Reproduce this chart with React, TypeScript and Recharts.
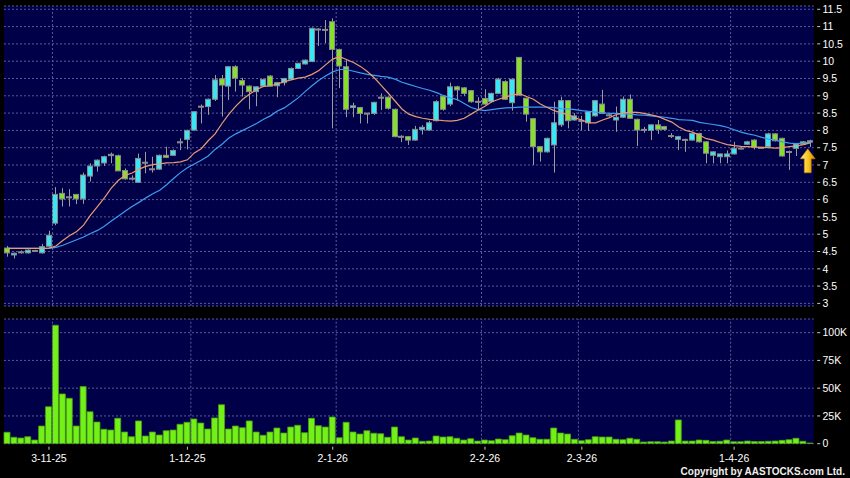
import {
  ComposedChart,
  BarChart,
  Bar,
  Line,
  XAxis,
  YAxis,
  CartesianGrid,
  ReferenceLine,
  ReferenceDot,
} from 'recharts';

// Daily candles, 10/20-day moving averages and volume (thousands of shares).

const opens = [
  4.6, 4.4, 4.49, 4.46, 4.53, 4.46, 4.65, 5.32, 6.18, 6.08,
  6.15, 6.02, 6.68, 6.97, 7.06, 7.27, 7.27, 6.84, 6.6, 6.5,
  7.07, 6.88, 6.88, 7.28, 7.28, 7.66, 7.74, 8.01, 8.69, 8.69,
  8.9, 9.49, 9.28, 9.84, 9.44, 9.28, 9.12, 9.28, 9.57, 9.29,
  9.38, 9.48, 9.79, 9.92, 9.99, 10.92, 10.92, 11.14, 10.34, 9.84,
  8.66, 8.66, 8.49, 8.49, 8.96, 8.96, 8.61, 7.82, 7.82, 7.72,
  8.03, 8.01, 8.28, 8.99, 8.76, 9.26, 9.23, 9.15, 8.83, 8.92,
  8.83, 9.07, 9.41, 8.8, 10.11, 8.93, 8.34, 7.53, 7.38, 7.58,
  8.16, 8.86, 8.3, 8.28, 8.22, 8.42, 8.76, 8.44, 8.3, 8.38,
  8.9, 8.32, 8.03, 8.0, 8.16, 8.11, 7.85, 7.74, 7.74, 7.72,
  7.91, 7.67, 7.28, 7.24, 7.24, 7.32, 7.48, 7.6, 7.72, 7.5,
  7.53, 7.9, 7.77, 7.38, 7.48, 7.67, 7.66,
];
const highs = [
  4.66, 4.47, 4.53, 4.56, 4.55, 4.72, 5.1, 6.36, 6.33, 6.3,
  6.16, 6.78, 7.05, 7.16, 7.27, 7.36, 7.3, 6.9, 6.7, 7.33,
  7.38, 7.24, 7.3, 7.53, 7.45, 7.77, 8.02, 8.56, 8.75, 8.92,
  9.6, 9.6, 9.86, 9.88, 9.52, 9.3, 9.27, 9.5, 9.6, 9.4,
  9.52, 9.82, 9.95, 10.05, 10.97, 10.96, 11.19, 11.24, 10.36, 10.03,
  8.8, 8.68, 8.5, 8.83, 9.07, 8.98, 8.63, 7.86, 7.84, 8.13,
  8.15, 8.28, 8.87, 9.01, 9.38, 9.29, 9.25, 9.17, 8.96, 9.19,
  9.09, 9.52, 9.45, 9.5, 10.12, 8.95, 8.36, 7.55, 7.79, 8.83,
  8.97, 8.88, 8.5, 8.42, 8.56, 8.88, 9.17, 8.48, 8.69, 8.98,
  9.04, 8.34, 8.1, 8.18, 8.3, 8.13, 7.92, 7.84, 7.76, 7.93,
  7.93, 7.69, 7.4, 7.33, 7.42, 7.67, 7.52, 7.7, 7.74, 7.52,
  7.93, 7.92, 7.79, 7.42, 7.63, 7.69, 7.73,
];
const lows = [
  4.35, 4.3, 4.44, 4.44, 4.49, 4.44, 4.62, 5.26, 5.8, 5.8,
  5.87, 5.88, 6.52, 6.81, 6.97, 7.05, 6.83, 6.58, 6.55, 6.48,
  6.76, 6.78, 6.86, 7.2, 7.26, 7.43, 7.45, 7.99, 8.2, 8.45,
  8.85, 8.4, 8.88, 9.12, 8.98, 8.61, 8.7, 9.26, 9.27, 8.96,
  9.3, 9.46, 9.77, 9.9, 9.97, 10.44, 10.52, 8.06, 9.22, 8.38,
  8.38, 8.2, 8.2, 8.45, 8.59, 8.6, 7.8, 7.66, 7.58, 7.7,
  7.88, 7.99, 8.26, 8.57, 8.7, 8.86, 9.0, 8.8, 8.61, 8.74,
  8.8, 9.05, 8.88, 8.57, 9.0, 8.25, 7.0, 7.1, 7.36, 6.78,
  8.1, 8.06, 8.28, 8.0, 7.99, 8.4, 8.47, 8.4, 7.96, 8.36,
  8.33, 7.55, 7.93, 7.72, 7.9, 8.0, 7.78, 7.43, 7.38, 7.7,
  7.65, 7.05, 7.05, 7.05, 7.05, 7.3, 7.45, 7.58, 7.45, 7.48,
  7.5, 7.68, 7.24, 6.86, 7.26, 7.58, 7.52,
];
const closes = [
  4.46, 4.45, 4.49, 4.54, 4.5, 4.64, 4.97, 6.15, 6.02, 6.08,
  6.02, 6.71, 6.97, 7.14, 7.24, 7.31, 6.83, 6.6, 6.62, 7.19,
  7.08, 6.89, 7.28, 7.22, 7.42, 7.67, 8.0, 8.54, 8.7, 8.9,
  9.46, 9.31, 9.84, 9.51, 9.31, 9.12, 9.26, 9.47, 9.28, 9.38,
  9.5, 9.79, 9.94, 10.03, 10.95, 10.93, 10.92, 10.34, 9.86, 8.61,
  8.71, 8.49, 8.5, 8.81, 8.96, 8.64, 7.82, 7.83, 7.72, 8.03,
  8.09, 8.22, 8.83, 8.61, 9.26, 9.17, 9.07, 8.83, 8.84, 8.76,
  9.07, 9.48, 8.9, 9.48, 9.02, 8.47, 7.53, 7.38, 7.77, 8.22,
  8.86, 8.28, 8.42, 8.29, 8.54, 8.86, 8.49, 8.45, 8.38, 8.9,
  8.35, 8.01, 8.03, 8.16, 8.03, 8.03, 7.84, 7.82, 7.72, 7.91,
  7.67, 7.34, 7.38, 7.32, 7.32, 7.48, 7.49, 7.67, 7.51, 7.51,
  7.9, 7.7, 7.26, 7.39, 7.61, 7.6, 7.7,
];
const volumes = [
  10.3, 5.8, 5.1, 6.3, 3.3, 15.9, 33.3, 106.7, 44.8, 40.9,
  15.9, 51.4, 28.8, 19.5, 13, 12.3, 22.9, 10.5, 6.3, 20.5,
  6.9, 10.5, 7.8, 11.7, 12.3, 17.5, 19.3, 22.3, 18.6, 13.2,
  23.2, 35.1, 13.2, 15.9, 14.4, 20.5, 10.5, 7.6, 10.5, 14.1,
  9.6, 15, 16.6, 9.9, 22.9, 16.2, 15, 24, 5.4, 19.3,
  10.5, 8.7, 11.7, 9.4, 9, 5.8, 15, 6.3, 3.3, 5.1,
  2.2, 2.4, 6.9, 6, 6.3, 4.9, 3.3, 4.5, 2.4, 3.3,
  2.7, 4.2, 3.6, 7.2, 9.6, 7.8, 5.4, 4, 4, 14.1,
  9.6, 8.7, 4, 2.7, 3.6, 6.3, 6, 6, 4, 3.6,
  4.9, 4, 1.5, 1.8, 1.8, 1.5, 2.4, 21.4, 2.4, 2.4,
  3.3, 3, 1.9, 2.2, 3.3, 1.8, 1.8, 2.4, 1.9, 1.9,
  2.2, 2.4, 3, 3.6, 4.9, 2.2, 0.6,
];
const maShort = [
  4.59, 4.59, 4.59, 4.59, 4.59, 4.59, 4.6, 4.66, 4.82, 4.96,
  5.08, 5.26, 5.55, 5.8, 6.05, 6.33, 6.55, 6.7, 6.77, 6.88,
  6.96, 7.01, 7.03, 7.06, 7.07, 7.09, 7.15, 7.35, 7.47, 7.7,
  7.9, 8.2, 8.47, 8.7, 8.9, 9.05, 9.18, 9.27, 9.29, 9.34,
  9.41, 9.46, 9.51, 9.54, 9.62, 9.73, 9.9, 10.06, 10.13, 10.05,
  9.96, 9.85, 9.7, 9.52, 9.3, 9.08, 8.85, 8.62, 8.47, 8.4,
  8.35, 8.32, 8.3, 8.28, 8.27, 8.29, 8.35, 8.47, 8.59, 8.7,
  8.83, 8.9, 8.97, 9.02, 9.06, 8.98, 8.9, 8.76, 8.66, 8.57,
  8.51, 8.45, 8.36, 8.3, 8.22, 8.22, 8.3, 8.37, 8.46, 8.5,
  8.53, 8.52, 8.49, 8.45, 8.4, 8.32, 8.24, 8.1, 8.0, 7.95,
  7.86, 7.76, 7.72, 7.65, 7.59, 7.56, 7.54, 7.53, 7.52, 7.51,
  7.5, 7.49, 7.5, 7.53, 7.55, 7.59, 7.64,
];
const maLong = [
  4.59, 4.59, 4.59, 4.59, 4.59, 4.59, 4.59, 4.62, 4.68, 4.76,
  4.84, 4.92, 5.02, 5.11, 5.23, 5.38, 5.52, 5.66, 5.8, 5.92,
  6.05, 6.17, 6.27, 6.43, 6.61, 6.78, 6.92, 7.03, 7.14, 7.26,
  7.45, 7.6, 7.78, 7.9, 8.0, 8.1, 8.2, 8.32, 8.42, 8.56,
  8.65, 8.79, 8.94, 9.12, 9.29, 9.45, 9.58, 9.69, 9.76, 9.76,
  9.71, 9.66, 9.62, 9.59, 9.56, 9.54, 9.48, 9.39, 9.33, 9.27,
  9.21, 9.16, 9.09, 9.01, 8.94, 8.89, 8.78, 8.66, 8.6, 8.57,
  8.6, 8.63, 8.65, 8.66, 8.67, 8.67, 8.67, 8.67, 8.67, 8.66,
  8.63, 8.62, 8.6, 8.57, 8.55, 8.53, 8.51, 8.49, 8.49, 8.48,
  8.47, 8.45, 8.44, 8.42, 8.4, 8.38, 8.35, 8.31, 8.3, 8.29,
  8.23, 8.2, 8.17, 8.14, 8.09, 8.02, 7.95, 7.9, 7.86, 7.8,
  7.75, 7.72, 7.67, 7.63, 7.62, 7.63, 7.66,
];

const tickDays = [6, 26, 47, 69, 83, 105];
const tickLabels = ['3-11-25', '1-12-25', '2-1-26', '2-2-26', '2-3-26', '1-4-26'];
const gridDays = [6, 26, 47, 68, 82, 104];
const priceTicks = [3, 3.5, 4, 4.5, 5, 5.5, 6, 6.5, 7, 7.5, 8, 8.5, 9, 9.5, 10, 10.5, 11, 11.5];
const volTicks = [0, 25, 50, 75, 100];

const rows = closes.map((c, i) => ({
  day: i,
  open: opens[i],
  high: highs[i],
  low: lows[i],
  close: c,
  range: [lows[i], highs[i]],
  vol: volumes[i],
  maS: maShort[i],
  maL: maLong[i],
}));

const NAVY = '#000048';
const GRID = '#5a5a98';
const CYAN = '#38e6f4';
const GREEN = '#86e02a';
const VOL_GREEN = '#72f018';
const FONT = 'Arial, "Liberation Sans", sans-serif';
const AXIS_W = 36.3;

function Candle(props: any) {
  const { x, y, width, height, payload } = props;
  const top = Math.min(y, y + height);
  const h = Math.abs(height);
  const { open, high, low, close } = payload;
  const k = h / (high - low);
  const up = close >= open;
  const bTop = top + (high - Math.max(open, close)) * k;
  const bH = Math.max(1, Math.abs(open - close) * k);
  const x0 = Math.round(x);
  return (
    <g>
      <line x1={x0 + 3.5} x2={x0 + 3.5} y1={top} y2={top + h} stroke="#9c9c9c" />
      <rect
        x={x0 + 0.5}
        y={bTop}
        width={Math.max(1, Math.round(width) - 1)}
        height={bH}
        fill={up ? CYAN : GREEN}
        stroke="#8a8a8a"
      />
    </g>
  );
}

function RightTick({ x, y, payload, fmt }: any) {
  return (
    <g>
      <line x1={x + 3.5} x2={x + 6.5} y1={y} y2={y} stroke="#c8c8c8" />
      <text x={x + 8.8} y={y} dy="0.36em" fill="#ffffff" fontSize={10.5} fontFamily={FONT}>
        {fmt ? fmt(payload.value) : payload.value}
      </text>
    </g>
  );
}

function DateTick({ x, y, payload }: any) {
  const label = tickLabels[tickDays.indexOf(payload.value)];
  return (
    <g>
      <line x1={x} x2={x} y1={y + 3} y2={y + 6} stroke="#c8c8c8" />
      <text x={x} y={y + 17.8} textAnchor="middle" fill="#ffffff" fontSize={10.5} fontFamily={FONT}>
        {label}
      </text>
    </g>
  );
}

function UpArrow({ cx, cy }: any) {
  const x = cx - 2.5;
  return (
    <g>
      <defs>
        <linearGradient id="arrowFill" x1="0" y1="0" x2="1" y2="0">
          <stop offset="0%" stopColor="#fff29a" />
          <stop offset="55%" stopColor="#f7c21a" />
          <stop offset="100%" stopColor="#d58a00" />
        </linearGradient>
      </defs>
      <polygon
        points={`${x},${cy - 12} ${x + 7.5},${cy - 2} ${x + 3.5},${cy - 2} ${x + 3.5},${cy + 12} ${x - 3.5},${cy + 12} ${x - 3.5},${cy - 2} ${x - 7.5},${cy - 2}`}
        fill="url(#arrowFill)"
        stroke="#b87400"
        strokeWidth={0.6}
      />
    </g>
  );
}

export default function App() {
  return (
    <div style={{ position: 'absolute', left: 0, top: 0, width: 850, height: 478, background: '#000' }}>
      <div style={{ position: 'absolute', left: 0, top: 0 }}>
        <ComposedChart width={850} height={310} data={rows} margin={{ top: 6, right: 0, bottom: 4, left: 4 }}>
          <CartesianGrid vertical={false} fill={NAVY} fillOpacity={1} stroke={GRID} strokeDasharray="2 2" />
          <XAxis dataKey="day" hide />
          <YAxis
            orientation="right"
            width={AXIS_W}
            type="number"
            domain={[2.925, 11.595]}
            allowDataOverflow
            ticks={priceTicks}
            interval={0}
            axisLine={false}
            tickLine={false}
            tickSize={0}
            tickMargin={0}
            tick={<RightTick />}
          />
          {gridDays.map((d) => (
            <ReferenceLine key={d} x={d} position="end" stroke={GRID} strokeDasharray="2 2" />
          ))}
          <Bar dataKey="range" barSize={6} shape={<Candle />} isAnimationActive={false} />
          <Line dataKey="maL" type="linear" stroke="#3d9cf0" strokeWidth={1.2} dot={false} activeDot={false} isAnimationActive={false} />
          <Line dataKey="maS" type="linear" stroke="#e89a72" strokeWidth={1.2} dot={false} activeDot={false} isAnimationActive={false} />
          <ReferenceDot x={116} y={7.12} r={0} shape={(p: any) => <UpArrow cx={p.cx} cy={p.cy} />} />
        </ComposedChart>
      </div>
      <div style={{ position: 'absolute', left: 0, top: 310 }}>
        <BarChart width={850} height={168} data={rows} margin={{ top: 9, right: 0, bottom: 0, left: 4 }}>
          <CartesianGrid vertical={false} fill={NAVY} fillOpacity={1} stroke={GRID} strokeDasharray="2 2" />
          <XAxis
            dataKey="day"
            height={34.3}
            ticks={tickDays}
            interval={0}
            axisLine={false}
            tickLine={false}
            tickSize={0}
            tickMargin={0}
            tick={<DateTick />}
          />
          <YAxis
            orientation="right"
            width={AXIS_W}
            type="number"
            domain={[0, 112.3]}
            allowDataOverflow
            ticks={volTicks}
            interval={0}
            axisLine={false}
            tickLine={false}
            tickSize={0}
            tickMargin={0}
            tick={<RightTick fmt={(v: number) => (v === 0 ? '0' : `${v}K`)} />}
          />
          {gridDays.map((d) => (
            <ReferenceLine key={d} x={d} position="end" stroke={GRID} strokeDasharray="2 2" />
          ))}
          <Bar dataKey="vol" barSize={6} fill={VOL_GREEN} stroke="#4aa010" strokeWidth={0.8} isAnimationActive={false} />
        </BarChart>
      </div>
      <div
        style={{
          position: 'absolute',
          right: 5,
          top: 466,
          fontFamily: FONT,
          fontWeight: 'bold',
          fontSize: 10,
          lineHeight: '12px',
          color: '#eeeeee',
          whiteSpace: 'nowrap',
        }}
      >
        Copyright by AASTOCKS.com Ltd.
      </div>
    </div>
  );
}
